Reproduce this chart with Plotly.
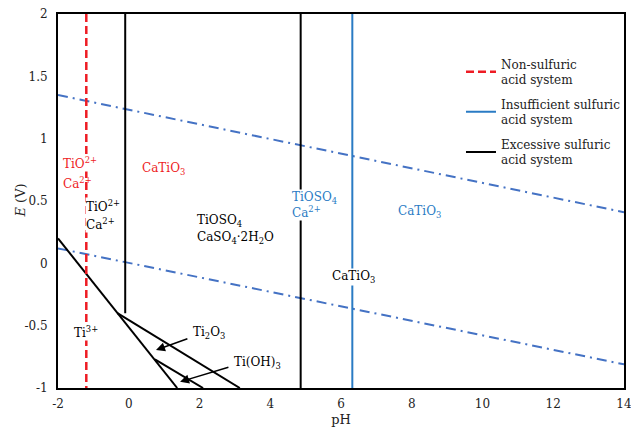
import plotly.graph_objects as go

# ---------------- data ----------------
x_ticks = [-2, 0, 2, 4, 6, 8, 10, 12, 14]
y_ticks = [-1, -0.5, 0, 0.5, 1, 1.5, 2]
y_tick_labels = ["-1", "-0.5", "0", "0.5", "1", "1.5", "2"]

# Non-sulfuric acid system (red dashed)
red_ph = [-1.2, -1.2]
red_E = [2, -1]

# Insufficient sulfuric acid system (blue solid)
blue_ph = [6.32, 6.32]
blue_E = [2, -1]

# Excessive sulfuric acid system (black solid)
black_v1_ph = [-0.1, -0.1]
black_v1_E = [2, -0.40]
black_v2_ph = [4.86, 4.86]
black_v2_E = [2, -1]
diag_main_ph = [-2, 1.37]
diag_main_E = [0.2, -1]
diag_ti2o3_ph = [-0.32, 3.14]
diag_ti2o3_E = [-0.40, -1]
diag_tioh3_ph = [0.74, 2.1]
diag_tioh3_E = [-0.77, -1]

# Water stability lines (blue dash-dot)
water_ph = [-2, 14]
water_upper_E = [1.35, 0.41]
water_lower_E = [0.12, -0.81]

FONT = "DejaVu Serif"
FS = 12
RED = "#ee1c24"
BLUE = "#2a7bc4"
DASHBLUE = "#4472c4"

fig = go.Figure()

# water lines
fig.add_trace(go.Scatter(x=water_ph, y=water_upper_E, mode="lines", showlegend=False,
                         line=dict(color=DASHBLUE, width=2, dash="10px,5px,2px,5px")))
fig.add_trace(go.Scatter(x=water_ph, y=water_lower_E, mode="lines", showlegend=False,
                         line=dict(color=DASHBLUE, width=2, dash="10px,5px,2px,5px")))

# black lines
for xs, ys in [(black_v1_ph, black_v1_E), (diag_main_ph, diag_main_E),
               (diag_ti2o3_ph, diag_ti2o3_E), (diag_tioh3_ph, diag_tioh3_E)]:
    fig.add_trace(go.Scatter(x=xs, y=ys, mode="lines", showlegend=False,
                             line=dict(color="black", width=2)))

# legend traces
fig.add_trace(go.Scatter(x=red_ph, y=red_E, mode="lines", name="Non-sulfuric<br>acid system",
                         legendgroup="a", line=dict(color=RED, width=2.5, dash="8px,4px")))
fig.add_trace(go.Scatter(x=blue_ph, y=blue_E, mode="lines", name="Insufficient sulfuric<br>acid system",
                         legendgroup="b", line=dict(color=BLUE, width=2)))
fig.add_trace(go.Scatter(x=black_v2_ph, y=black_v2_E, mode="lines", name="Excessive sulfuric<br>acid system",
                         legendgroup="c", line=dict(color="black", width=2)))

ann = []
def label(x, y, text, color="black", bg=None, xanchor="left"):
    d = dict(x=x, y=y, xref="x", yref="y", text=text, showarrow=False,
             xanchor=xanchor, yanchor="middle", align="left",
             font=dict(family=FONT, size=FS, color=color), borderpad=0)
    if bg:
        d["bgcolor"] = bg
    ann.append(d)

label(-1.89, 0.805, "TiO<sup>2+</sup>", RED, bg="white")
label(-1.89, 0.645, "Ca<sup>2+</sup>", RED)
label(0.36, 0.76, "CaTiO<sub>3</sub>", RED)
label(-1.24, 0.46, "TiO<sup>2+</sup>", "black", bg="white")
label(-1.24, 0.316, "Ca<sup>2+</sup>", "black", bg="white")
label(1.90, 0.342, "TiOSO<sub>4</sub>")
label(1.90, 0.205, "CaSO<sub>4</sub>·2H<sub>2</sub>O")
label(4.58, 0.465, "TiOSO<sub>4</sub><br>Ca<sup>2+</sup>", BLUE, bg="white")
label(7.57, 0.414, "CaTiO<sub>3</sub>", BLUE)
label(5.72, -0.112, "CaTiO<sub>3</sub>", "black", bg="white")
label(-1.57, -0.548, "Ti<sup>3+</sup>", "black", bg="white")
label(1.79, -0.56, "Ti<sub>2</sub>O<sub>3</sub>")
label(2.95, -0.80, "Ti(OH)<sub>3</sub>")

# arrows
for (tx, ty, hx, hy) in [(1.70, -0.60, 0.77, -0.695), (2.86, -0.83, 1.45, -0.95)]:
    ann.append(dict(x=hx, y=hy, ax=tx, ay=ty, xref="x", yref="y", axref="x", ayref="y",
                    text="", showarrow=True, arrowhead=2, arrowsize=1.2, arrowwidth=1.5,
                    arrowcolor="black"))

# y-axis title
ann.append(dict(x=-0.068, y=0.5, xref="paper", yref="paper", showarrow=False,
                text="<i>E</i> (V)", textangle=-90, xanchor="center", yanchor="middle",
                font=dict(family=FONT, size=13, color="#222")))

fig.update_layout(
    width=631, height=437,
    margin=dict(l=58, r=7, t=14, b=49, autoexpand=False),
    paper_bgcolor="white", plot_bgcolor="white",
    font=dict(family=FONT, size=FS, color="#222"),
    annotations=ann,
    showlegend=True,
    legend=dict(x=0.712, y=0.905, xanchor="left", yanchor="top",
                font=dict(family=FONT, size=FS, color="#222"),
                bgcolor="rgba(0,0,0,0)", borderwidth=0, tracegroupgap=6),
)
fig.update_xaxes(range=[-2, 14], tickvals=x_ticks, ticktext=[str(v) for v in x_ticks],
                 showgrid=False, zeroline=False, showline=True, mirror=True, automargin=False,
                 linecolor="black", linewidth=2, ticks="", ticklabelstandoff=4,
                 ticklabeloverflow="allow",
                 title=dict(text="pH", font=dict(family=FONT, size=13, color="#222"), standoff=4),
                 tickfont=dict(family=FONT, size=FS, color="#222"))
fig.update_yaxes(range=[-1, 2], tickvals=y_ticks, ticktext=y_tick_labels,
                 showgrid=False, zeroline=False, showline=True, mirror=True, automargin=False,
                 linecolor="black", linewidth=2, ticks="", ticklabelstandoff=6,
                 ticklabeloverflow="allow",
                 tickfont=dict(family=FONT, size=FS, color="#222"))

fig.write_html("out.html")
